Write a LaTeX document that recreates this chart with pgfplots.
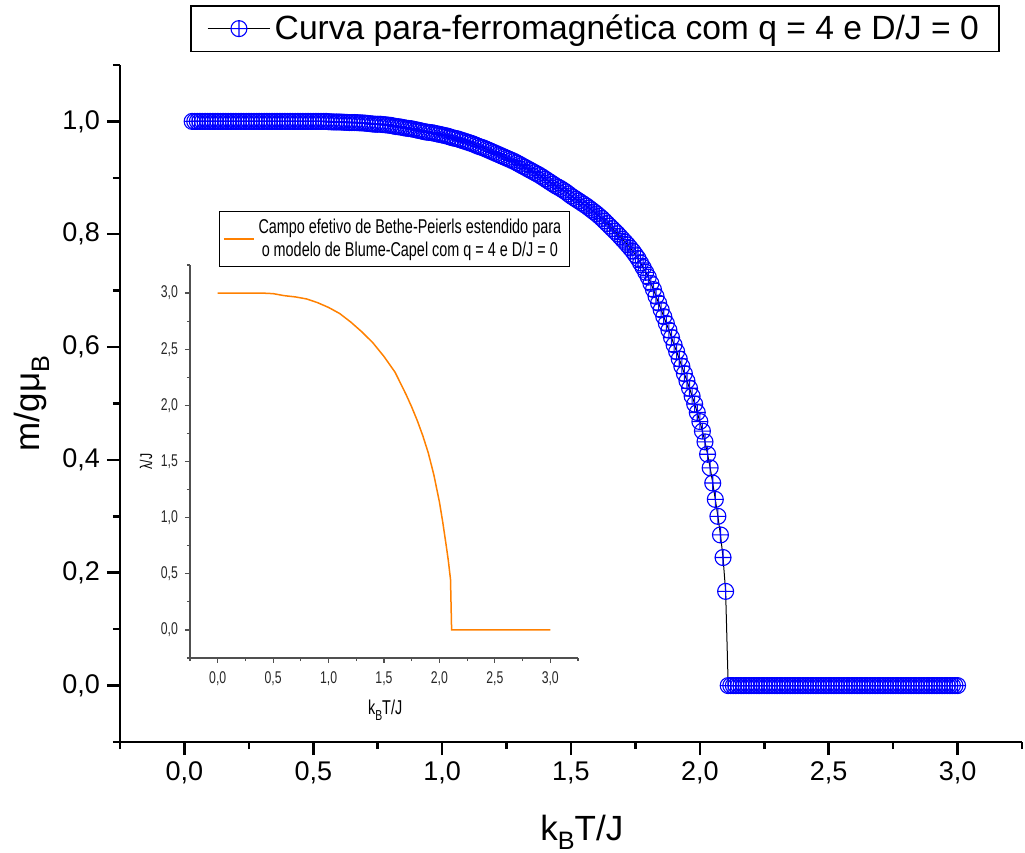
\documentclass[border=0pt]{standalone}
\usepackage{fontspec}
\setmainfont{Liberation Sans}
\newfontfamily\nf[FakeStretch=0.72]{Liberation Sans}
\usepackage{graphicx}
\usepackage{pgfplots}
\pgfplotsset{compat=1.18}
\definecolor{obl}{RGB}{0,0,255}
\definecolor{oor}{RGB}{255,128,0}
\definecolor{igray}{RGB}{80,80,80}
\newcommand{\sub}[1]{\raisebox{-0.5ex}{\scalebox{0.72}{#1}}}
\begin{document}
\begin{tikzpicture}
\path[use as bounding box] (-60pt,-55.5pt) rectangle (452.5pt,371pt);
\begin{axis}[
  at={(0,0)}, anchor=south west,
  scale only axis, width=451pt, height=338.5pt,
  xmin=-0.25, xmax=3.25, ymin=-0.1, ymax=1.1,
  axis lines*=left,
  axis line style={line width=1.25pt, black, -},
  tick style={line width=1.25pt, black},
  tick align=outside,
  major tick length=6.5pt, minor tick length=3.5pt,
  xtick={0,0.5,1,1.5,2,2.5,3},
  ytick={0,0.2,0.4,0.6,0.8,1.0},
  minor xtick={-0.25,0.25,0.75,1.25,1.75,2.25,2.75,3.25},
  minor ytick={-0.1,0.1,0.3,0.5,0.7,0.9,1.1},
  /pgf/number format/.cd, use comma, fixed, fixed zerofill, precision=1, assume math mode=true,
  /pgfplots/.cd,
  ticklabel style={font=\fontsize{13.5}{16}\selectfont},
  xlabel={k\sub{B}T/J}, ylabel={m/gμ\sub{B}},
  every axis x label/.style={at={(axis description cs:0.512,-0.1448)}, anchor=base, font=\fontsize{17.5}{20}\selectfont},
  every axis y label/.style={at={(axis description cs:-0.0887,0.5)}, anchor=base, rotate=90, font=\fontsize{17.5}{20}\selectfont},
  legend style={at={(axis description cs:0.5266,1.0886)}, anchor=north, draw=black, line width=0.75pt,
    font=\fontsize{16.8}{20}\selectfont, inner xsep=8pt, inner ysep=2.5pt},
  legend image code/.code={\draw[mark repeat=2,mark phase=2,#1] plot coordinates {(0cm,0cm) (0.55cm,0cm) (1.1cm,0cm)};},
]
\addplot[black, line width=0.5pt, mark=oplus, mark size=4pt, mark options={obl, line width=0.55pt, solid}] coordinates {
(0.03,1)(0.04,1)(0.05,1)(0.06,1)(0.07,1)(0.08,1)(0.09,1)(0.10,1)
(0.11,1)(0.12,1)(0.13,1)(0.14,1)(0.15,1)(0.16,1)(0.17,1)(0.18,1)(0.19,1)(0.20,1)
(0.21,1)(0.22,1)(0.23,1)(0.24,1)(0.25,1)(0.26,1)(0.27,1)(0.28,1)(0.29,1)(0.30,1)
(0.31,1)(0.32,1)(0.33,1)(0.34,1)(0.35,1)(0.36,1)(0.37,1)(0.38,1)(0.39,1)(0.40,1)
(0.41,1)(0.42,1)(0.43,1)(0.44,1)(0.45,1)(0.46,1)(0.47,1)(0.48,1)(0.49,1)(0.50,1)
(0.51,1.000)(0.52,1.000)(0.53,1.000)(0.54,1.000)(0.55,1.000)(0.56,0.9995)(0.57,0.9993)(0.58,0.999)(0.59,0.999)(0.60,0.999)
(0.61,0.9988)(0.62,0.9985)(0.63,0.9983)(0.64,0.998)(0.65,0.998)(0.66,0.998)(0.67,0.9978)(0.68,0.9975)(0.69,0.9973)(0.70,0.997)
(0.71,0.9965)(0.72,0.996)(0.73,0.9955)(0.74,0.995)(0.75,0.995)(0.76,0.995)(0.77,0.9945)(0.78,0.994)(0.79,0.9935)(0.80,0.993)
(0.81,0.992)(0.82,0.991)(0.83,0.9905)(0.84,0.990)(0.85,0.989)(0.86,0.988)(0.87,0.9875)(0.88,0.987)(0.89,0.986)(0.90,0.985)
(0.91,0.984)(0.92,0.983)(0.93,0.982)(0.94,0.981)(0.95,0.9805)(0.96,0.980)(0.97,0.979)(0.98,0.978)(0.99,0.977)(1.00,0.976)
(1.01,0.975)(1.02,0.974)(1.03,0.9725)(1.04,0.971)(1.05,0.970)(1.06,0.969)(1.07,0.9675)(1.08,0.966)(1.09,0.9645)(1.10,0.963)
(1.11,0.9615)(1.12,0.960)(1.13,0.958)(1.14,0.956)(1.15,0.9545)(1.16,0.953)(1.17,0.951)(1.18,0.949)(1.19,0.947)(1.20,0.945)
(1.21,0.943)(1.22,0.941)(1.23,0.939)(1.24,0.937)(1.25,0.935)(1.26,0.933)(1.27,0.931)(1.28,0.929)(1.29,0.9265)(1.30,0.924)
(1.31,0.9215)(1.32,0.919)(1.33,0.9165)(1.34,0.914)(1.35,0.9115)(1.36,0.909)(1.37,0.9065)(1.38,0.904)(1.39,0.901)(1.40,0.898)
(1.41,0.895)(1.42,0.892)(1.43,0.889)(1.44,0.886)(1.45,0.8835)(1.46,0.881)(1.47,0.878)(1.48,0.875)(1.49,0.8715)(1.50,0.868)
(1.51,0.865)(1.52,0.862)(1.53,0.859)(1.54,0.856)(1.55,0.853)(1.56,0.850)(1.57,0.8465)(1.58,0.843)(1.59,0.8395)(1.60,0.836)
(1.61,0.832)(1.62,0.828)(1.63,0.8235)(1.64,0.819)(1.65,0.8145)(1.66,0.810)(1.67,0.8055)(1.68,0.801)(1.69,0.796)(1.70,0.791)
(1.71,0.786)(1.72,0.781)(1.73,0.7755)(1.74,0.770)(1.75,0.7635)(1.76,0.757)(1.77,0.749)(1.78,0.741)(1.79,0.7325)
(1.80,0.724)(1.81,0.713)(1.82,0.702)(1.83,0.690)(1.84,0.678)(1.85,0.666)(1.86,0.654)(1.87,0.642)(1.88,0.630)(1.89,0.617)
(1.90,0.604)(1.91,0.592)(1.92,0.579)(1.93,0.566)(1.94,0.553)(1.95,0.540)(1.96,0.527)(1.97,0.513)(1.98,0.499)(1.99,0.484)
(2.00,0.468)(2.01,0.451)(2.02,0.432)(2.03,0.410)(2.04,0.386)(2.05,0.359)(2.06,0.330)(2.07,0.300)(2.08,0.267)(2.09,0.227)
(2.10,0.167)
(2.11,0)(2.12,0)(2.13,0)(2.14,0)(2.15,0)(2.16,0)(2.17,0)(2.18,0)(2.19,0)(2.20,0)
(2.21,0)(2.22,0)(2.23,0)(2.24,0)(2.25,0)(2.26,0)(2.27,0)(2.28,0)(2.29,0)(2.30,0)
(2.31,0)(2.32,0)(2.33,0)(2.34,0)(2.35,0)(2.36,0)(2.37,0)(2.38,0)(2.39,0)(2.40,0)
(2.41,0)(2.42,0)(2.43,0)(2.44,0)(2.45,0)(2.46,0)(2.47,0)(2.48,0)(2.49,0)(2.50,0)
(2.51,0)(2.52,0)(2.53,0)(2.54,0)(2.55,0)(2.56,0)(2.57,0)(2.58,0)(2.59,0)(2.60,0)
(2.61,0)(2.62,0)(2.63,0)(2.64,0)(2.65,0)(2.66,0)(2.67,0)(2.68,0)(2.69,0)(2.70,0)
(2.71,0)(2.72,0)(2.73,0)(2.74,0)(2.75,0)(2.76,0)(2.77,0)(2.78,0)(2.79,0)(2.80,0)
(2.81,0)(2.82,0)(2.83,0)(2.84,0)(2.85,0)(2.86,0)(2.87,0)(2.88,0)(2.89,0)(2.90,0)
(2.91,0)(2.92,0)(2.93,0)(2.94,0)(2.95,0)(2.96,0)(2.97,0)(2.98,0)(2.99,0)(3.00,0)
};
\addlegendentry{Curva para-ferromagnética com q = 4 e D/J = 0}
\end{axis}
\begin{axis}[
  at={(35pt,42pt)}, anchor=south west,
  scale only axis, width=194pt, height=196.5pt,
  xmin=-0.25, xmax=3.25, ymin=-0.25, ymax=3.25,
  axis lines*=left,
  axis line style={line width=0.7pt, igray, -},
  tick style={line width=0.6pt, igray},
  tick align=outside,
  major tick length=2.5pt, minor tick length=1.6pt,
  xtick={0,0.5,1,1.5,2,2.5,3},
  ytick={0,0.5,1,1.5,2,2.5,3},
  minor xtick={-0.25,0.25,0.75,1.25,1.75,2.25,2.75,3.25},
  minor ytick={-0.25,0.25,0.75,1.25,1.75,2.25,2.75,3.25},
  /pgf/number format/.cd, use comma, fixed, fixed zerofill, precision=1, assume math mode=true,
  /pgfplots/.cd,
  ticklabel style={font=\nf\fontsize{8.5}{9.5}\selectfont, text=black!85},
  xticklabel style={yshift=-1pt},
  xlabel={k\sub{B}T/J}, ylabel={λ/J},
  every axis x label/.style={at={(axis description cs:0.503,-0.145)}, anchor=base, font=\nf\fontsize{10}{11}\selectfont},
  every axis y label/.style={at={(axis description cs:-0.113,0.5)}, anchor=center, rotate=90, font=\nf\fontsize{8.5}{9.5}\selectfont},
  legend style={at={(axis description cs:0.526,1.137)}, anchor=north, draw=black, line width=0.5pt,
    font=\nf\fontsize{10}{11.5}\selectfont, inner xsep=2pt, inner ysep=1.5pt},
  legend image code/.code={\draw[#1] (0pt,0pt) -- (15pt,0pt);},
]
\addplot[oor, line width=0.75pt] coordinates {
(0.00,3.000)(0.10,3.000)(0.20,3.000)(0.30,3.000)(0.40,3.000)(0.50,2.995)
(0.60,2.977)(0.70,2.966)(0.80,2.948)(0.90,2.915)(1.00,2.872)
(1.10,2.818)(1.20,2.742)(1.30,2.655)(1.40,2.557)(1.50,2.435)
(1.60,2.295)(1.70,2.095)(1.75,1.985)(1.80,1.865)(1.85,1.730)
(1.90,1.575)(1.95,1.380)(2.00,1.140)(2.03,0.960)(2.06,0.760)
(2.08,0.620)(2.10,0.450)(2.11,0.000)(2.20,0)(2.40,0)(2.60,0)(2.80,0)(3.00,0)
};
\addlegendentry[align=center]{Campo efetivo de Bethe-Peierls estendido para\\o modelo de Blume-Capel com q = 4 e D/J = 0}
\end{axis}
\end{tikzpicture}
\end{document}
